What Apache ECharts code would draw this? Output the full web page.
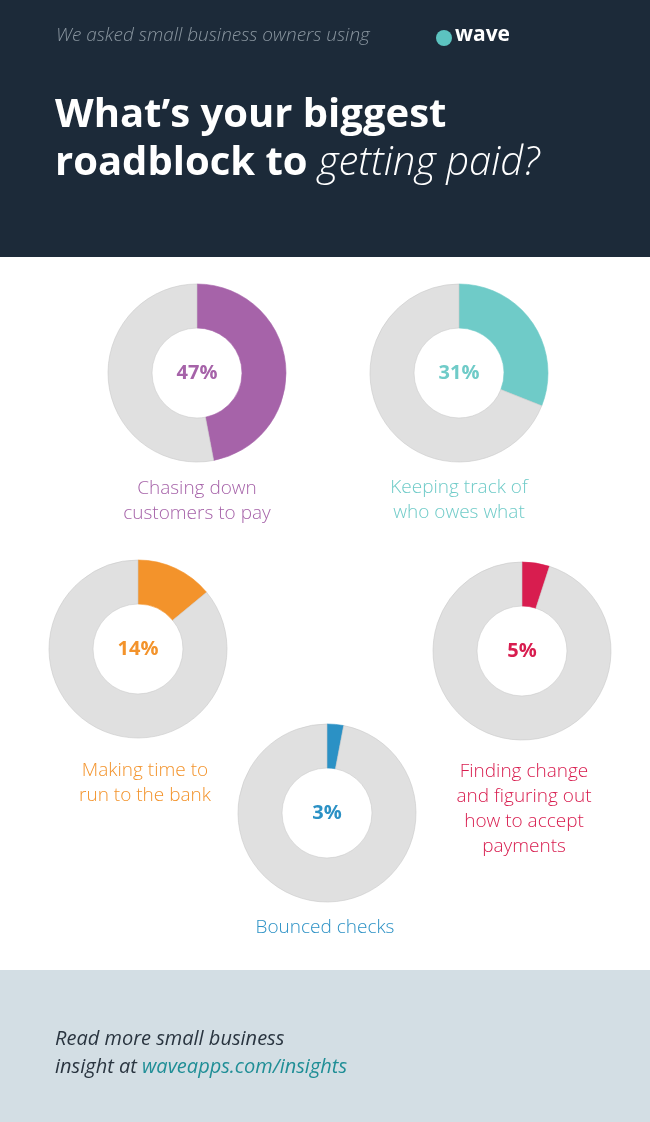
<!DOCTYPE html>
<html><head><meta charset="utf-8">
<script src="https://cdn.jsdelivr.net/npm/echarts@6/dist/echarts.min.js"></script>
<style>html,body{margin:0;padding:0;background:#fff}#c{width:650px;height:1122px}</style>
</head><body><div id="c"></div>
<script>
const categories = ['Chasing down\ncustomers to pay','Keeping track of\nwho owes what','Making time to\nrun to the bank','Finding change\nand figuring out\nhow to accept\npayments','Bounced checks'];
const values = [47,31,14,5,3];
const colors = ['#a663a9','#6fcbc8','#f3932b','#d81d4f','#2b91c5'];
const centers = [[197,373],[459,373],[138,649],[522,651],[327,813]];
const labelPos = [[197,476],[459,475],[145,758],[524,759],[325,915]];

const chart = echarts.init(document.getElementById('c'));
const F = '"Open Sans", "Noto Sans", sans-serif';
const series = values.map((v,i)=>({
  type:'pie', center:centers[i], radius:[45,89], startAngle:90, clockwise:true,
  silent:true, label:{show:false}, labelLine:{show:false},
  itemStyle:{borderColor:'#c9c9c9',borderWidth:0.6},
  data:[{value:v,itemStyle:{color:colors[i],borderColor:colors[i]}},{value:100-v,itemStyle:{color:'#e0e0e0'}}]
}));
const g = [
  {type:'rect',shape:{x:0,y:0,width:650,height:257},style:{fill:'#1c2a39'}},
  {type:'rect',shape:{x:0,y:970,width:650,height:152},style:{fill:'#d3dee4'}},
  {type:'text',x:56,y:26,style:{text:'We asked small business owners using',font:'italic 300 19px '+F,fill:'#8a96a0'}},
  {type:'circle',shape:{cx:444,cy:38,r:8},style:{fill:'#5cc3c0'}},
  {type:'text',x:455,y:25,style:{text:'wave',font:'bold 21px '+F,fill:'#ffffff'}},
  {type:'text',x:55,y:96,style:{text:'What’s your biggest',font:'bold 40px '+F,fill:'#ffffff'}},
  {type:'text',x:55,y:144,style:{rich:{b:{font:'bold 40px '+F,fill:'#ffffff'},i:{font:'italic 300 40px '+F,fill:'#ffffff'}},text:'{b|roadblock to }{i|getting paid?}'}},
  {type:'text',x:55,y:1025,style:{rich:{a:{font:'italic 20px '+F,fill:'#2a3540',lineHeight:28},l:{font:'italic 20px '+F,fill:'#1f8e96',lineHeight:28}},text:'{a|Read more small business}\n{a|insight at }{l|waveapps.com/insights}'}}
];
values.forEach((v,i)=>{
  g.push({type:'text',x:centers[i][0],y:centers[i][1],style:{text:v+'%',font:'bold 20px '+F,fill:colors[i],align:'center',verticalAlign:'middle'}});
  g.push({type:'text',x:labelPos[i][0],y:labelPos[i][1],style:{text:categories[i],font:'300 19px '+F,fill:colors[i],align:'center',lineHeight:25}});
});
chart.setOption({animation:false,series:series,graphic:{elements:g}});
</script></body></html>
